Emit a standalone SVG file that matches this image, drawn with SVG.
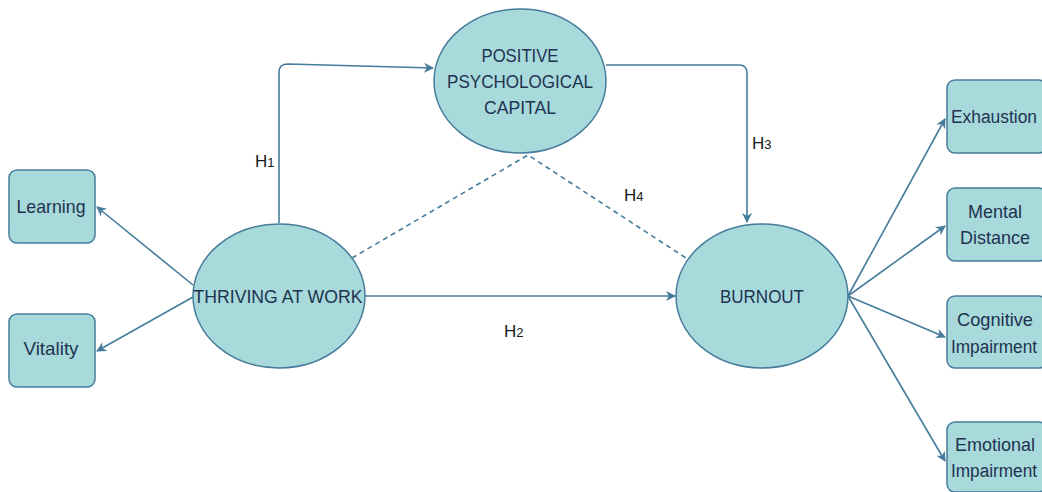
<svg xmlns="http://www.w3.org/2000/svg" width="1042" height="492" viewBox="0 0 1042 492">
<defs>
<style>
.n{fill:#a8d9db;stroke:#457c9c;stroke-width:1.5}
.t{font-family:"Liberation Sans",Arial,sans-serif;font-size:19px;fill:#1e3350;text-anchor:middle}
.w{font-size:18px}
.c{fill:none;stroke:#457c9c;stroke-width:1.6}
.d{fill:none;stroke:#457c9c;stroke-width:1.6;stroke-dasharray:5 4}
.h{font-family:"Liberation Sans",Arial,sans-serif;font-size:17px;fill:#1a1a1a}
.s{font-size:13px}
</style>
<marker id="a" viewBox="0 0 10 10" refX="9" refY="5" markerWidth="10" markerHeight="10" markerUnits="userSpaceOnUse" orient="auto">
<path d="M0,0 L10,5 L0,10 L3,5 Z" fill="#457c9c"/>
</marker>
</defs>
<rect width="1042" height="492" fill="#fff"/>
<g id="connectors">
<path class="c" d="M279,223 L279,72 Q279,64 288,64 L433,68" marker-end="url(#a)"/>
<path class="c" d="M606,65 L739,65 Q747,65 747,73 L747,222" marker-end="url(#a)"/>
<path class="c" d="M365,296 L675,296" marker-end="url(#a)"/>
<path class="d" d="M352,258 L528,155 L686,258"/>
<path class="c" d="M193,285 L97,207" marker-end="url(#a)"/>
<path class="c" d="M193,297 L97,351" marker-end="url(#a)"/>
<path class="c" d="M848,296 L945,119" marker-end="url(#a)"/>
<path class="c" d="M848,296 L945,226" marker-end="url(#a)"/>
<path class="c" d="M848,296 L945,337" marker-end="url(#a)"/>
<path class="c" d="M848,296 L945,461" marker-end="url(#a)"/>
</g>
<g id="labels">
<text class="h" x="255" y="167">H<tspan class="s">1</tspan></text>
<text class="h" x="504" y="337">H<tspan class="s">2</tspan></text>
<text class="h" x="752" y="149">H<tspan class="s">3</tspan></text>
<text class="h" x="624" y="201">H<tspan class="s">4</tspan></text>
</g>
<g id="ppc">
<ellipse class="n" cx="520" cy="81" rx="86" ry="72"/>
<text class="t" x="520" y="62" textLength="77" lengthAdjust="spacingAndGlyphs">POSITIVE</text>
<text class="t" x="520" y="88" textLength="146" lengthAdjust="spacingAndGlyphs">PSYCHOLOGICAL</text>
<text class="t" x="520" y="114" textLength="72" lengthAdjust="spacingAndGlyphs">CAPITAL</text>
</g>
<g id="thriving">
<ellipse class="n" cx="279" cy="296" rx="86" ry="72"/>
<text class="t" x="278" y="303" textLength="169" lengthAdjust="spacingAndGlyphs">THRIVING AT WORK</text>
</g>
<g id="burnout">
<ellipse class="n" cx="762" cy="296" rx="86" ry="72"/>
<text class="t" x="762" y="303" textLength="84" lengthAdjust="spacingAndGlyphs">BURNOUT</text>
</g>
<g id="learning">
<rect class="n" x="9" y="170" width="86" height="73" rx="8"/>
<text class="t" x="51" y="213" textLength="69" lengthAdjust="spacingAndGlyphs">Learning</text>
</g>
<g id="vitality">
<rect class="n" x="9" y="314" width="86" height="73" rx="8"/>
<text class="t" x="51" y="355" textLength="55" lengthAdjust="spacingAndGlyphs">Vitality</text>
</g>
<g id="exhaustion">
<rect class="n" x="947" y="80" width="100" height="73" rx="8"/>
<text class="t w" x="994" y="123" textLength="86" lengthAdjust="spacingAndGlyphs">Exhaustion</text>
</g>
<g id="mental">
<rect class="n" x="947" y="188" width="100" height="73" rx="8"/>
<text class="t" x="995" y="218" textLength="54" lengthAdjust="spacingAndGlyphs">Mental</text>
<text class="t" x="995" y="244" textLength="70" lengthAdjust="spacingAndGlyphs">Distance</text>
</g>
<g id="cognitive">
<rect class="n" x="947" y="296" width="100" height="72" rx="8"/>
<text class="t" x="995" y="326" textLength="76" lengthAdjust="spacingAndGlyphs">Cognitive</text>
<text class="t w" x="994" y="353" textLength="86" lengthAdjust="spacingAndGlyphs">Impairment</text>
</g>
<g id="emotional">
<rect class="n" x="947" y="422" width="100" height="70" rx="8"/>
<text class="t" x="995" y="451" textLength="80" lengthAdjust="spacingAndGlyphs">Emotional</text>
<text class="t w" x="994" y="477" textLength="86" lengthAdjust="spacingAndGlyphs">Impairment</text>
</g>
</svg>
